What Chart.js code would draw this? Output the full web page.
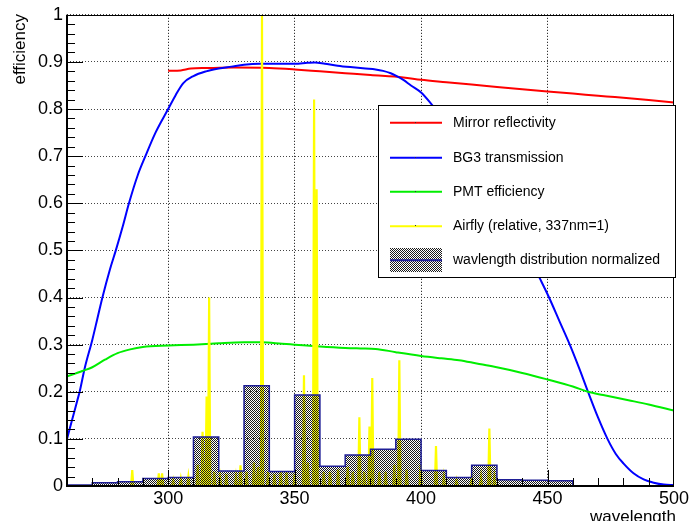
<!DOCTYPE html>
<html><head><meta charset="utf-8">
<script src="https://cdn.jsdelivr.net/npm/chart.js@4.4.1/dist/chart.umd.min.js"></script>
<style>html,body{margin:0;padding:0;background:#fff;}#wrap{width:691px;height:521px;position:relative;}</style>
</head><body><div id="wrap"><canvas id="c"></canvas></div>
<script>
// ---------- data ----------
const xMin = 260, xMax = 500;
const xTickValues = [300, 350, 400, 450, 500];
const yTickLabels = ['0','0.1','0.2','0.3','0.4','0.5','0.6','0.7','0.8','0.9','1'];

const mirrorWl  = [300, 305, 309, 315, 326, 340, 350, 360, 370, 380, 393, 400, 410, 420, 430, 440, 450, 460, 470, 475, 480, 490, 500];
const mirrorVal = [0.881,0.882,0.886,0.887,0.888,0.887,0.884,0.880,0.876,0.872,0.867,0.862,0.857,0.852,0.847,0.842,0.837,0.833,0.828,0.826,0.824,0.819,0.814];

const bg3Wl  = [260, 262, 264, 265, 267, 270, 272, 274, 277, 279.3, 282, 284.5, 288, 291, 295, 300, 303, 306, 310, 315, 320, 325, 330, 336, 345, 350, 355, 358, 362, 367, 372, 378, 382, 385, 388, 390, 393, 396, 400, 404, 410, 420, 430, 440, 447, 450.6, 454.7, 458.8, 462.5, 466, 470, 473.7, 477, 480, 484, 488, 492, 496, 500];
const bg3Val = [0.10,0.14,0.18,0.20,0.25,0.31,0.355,0.40,0.46,0.50,0.55,0.60,0.66,0.70,0.75,0.80,0.83,0.855,0.87,0.88,0.886,0.890,0.894,0.896,0.896,0.896,0.898,0.899,0.896,0.892,0.889,0.886,0.884,0.881,0.876,0.871,0.862,0.850,0.835,0.811,0.77,0.69,0.605,0.515,0.44,0.40,0.35,0.30,0.25,0.20,0.145,0.10,0.068,0.048,0.027,0.014,0.007,0.003,0.002];

const pmtWl  = [260, 263, 266, 270, 275, 280, 285, 290, 300, 310, 320, 330, 337, 345, 350, 360, 370, 376, 382, 390, 400, 408, 415, 422, 429, 440, 450, 460, 466, 472, 482, 490, 500];
const pmtVal = [0.233,0.238,0.244,0.252,0.268,0.282,0.290,0.295,0.298,0.300,0.303,0.305,0.305,0.302,0.300,0.296,0.293,0.292,0.291,0.284,0.276,0.271,0.267,0.260,0.253,0.240,0.226,0.211,0.200,0.193,0.182,0.173,0.160];

const airflyWl  = [285.8, 296.3, 297.6, 302.0, 305.0, 308.0, 311.7, 313.6, 315.2, 316.2, 318.2, 320.5, 323.0, 326.8, 328.6, 331.0, 333.9, 335.5, 337.1, 339.5, 342.0, 344.5, 346.8, 350.0, 353.7, 355.2, 357.7, 358.7, 361.5, 364.0, 367.2, 371.0, 373.0, 375.6, 377.5, 379.6, 380.7, 383.5, 386.0, 389.4, 391.4, 394.3, 399.8, 405.9, 409.0, 414.0, 420.0, 423.7, 427.0, 429.0];
const airflyRel = [0.034, 0.027, 0.027, 0.012, 0.015, 0.020, 0.045, 0.115, 0.190, 0.400, 0.030, 0.020, 0.025, 0.020, 0.044, 0.030, 0.050, 0.040, 1.000, 0.030, 0.025, 0.030, 0.030, 0.025, 0.235, 0.050, 0.820, 0.630, 0.030, 0.030, 0.035, 0.040, 0.030, 0.146, 0.030, 0.126, 0.229, 0.030, 0.030, 0.045, 0.267, 0.035, 0.045, 0.085, 0.020, 0.012, 0.020, 0.020, 0.122, 0.020];

const histEdges = [260, 270, 280, 290, 300, 310, 320, 330, 340, 350, 360, 370, 380, 390, 400, 410, 420, 430, 440, 450, 460];
const histVal   = [0.002,0.007,0.009,0.016,0.018,0.104,0.032,0.213,0.031,0.193,0.042,0.066,0.078,0.099,0.033,0.018,0.044,0.013,0.012,0.011,0];

const legendLabels = ['Mirror reflectivity','BG3 transmission','PMT efficiency','Airfly (relative, 337nm=1)','wavlength distribution normalized'];

// ---------- build ----------
const FONT = "'Liberation Sans', Arial, Helvetica, sans-serif";
const zip = (xs, ys) => xs.map((x, i) => ({x, y: ys[i]}));

const airflyData = [];
airflyWl.forEach((w, i) => {
  airflyData.push({x: w - 0.45, y: 0}, {x: w, y: airflyRel[i]}, {x: w + 0.45, y: 0}, {x: w + 0.5, y: null});
});

const pc = document.createElement('canvas'); pc.width = 2; pc.height = 2;
const pctx = pc.getContext('2d'); pctx.fillStyle = '#1a1a1a'; pctx.fillRect(0,0,1,1); pctx.fillRect(1,1,1,1);
const ctxMain = document.getElementById('c').getContext('2d');
const checker = ctxMain.createPattern(pc, 'repeat');

const HIST_COLOR = 'rgb(30,30,150)';
const colors = ['#ff0000', '#0000ff', '#00ee00', '#ffff00'];

const rootPlugin = {
  id: 'rootDeco',
  afterDatasetsDraw(chart) {
    const {ctx, chartArea: a, scales: {x, y}} = chart;
    ctx.save();
    ctx.strokeStyle = '#000'; ctx.lineWidth = 1;
    ctx.beginPath();
    const L = Math.round(a.left), B = Math.round(a.bottom);
    for (let k = 0; k <= 50; k++) {
      const yy = Math.round(y.getPixelForValue(k * 0.02)) + 0.5;
      const len = (k % 5 === 0) ? 16 : 8;
      ctx.moveTo(L, yy); ctx.lineTo(L + len, yy);
    }
    for (let w = xMin + 10; w < xMax; w += 10) {
      const xx = Math.round(x.getPixelForValue(w)) + 0.5;
      const len = (w % 50 === 0) ? 16 : 8;
      ctx.moveTo(xx, B); ctx.lineTo(xx, B - len);
    }
    ctx.stroke();
    ctx.beginPath();
    ctx.moveTo(L, Math.round(a.top) + 0.5); ctx.lineTo(Math.round(a.right), Math.round(a.top) + 0.5);
    ctx.moveTo(Math.round(a.right) - 0.5, a.top); ctx.lineTo(Math.round(a.right) - 0.5, a.bottom);
    ctx.stroke();
    ctx.lineWidth = 2;
    ctx.beginPath();
    ctx.moveTo(L, a.top); ctx.lineTo(L, B + 1);
    ctx.moveTo(L - 1, B); ctx.lineTo(Math.round(a.right), B);
    ctx.stroke();

    const bx = 378.5, by = 105.5, bw = 297, bh = 172;
    ctx.fillStyle = '#fff'; ctx.fillRect(bx, by, bw, bh);
    ctx.lineWidth = 1; ctx.strokeStyle = '#000'; ctx.strokeRect(bx, by, bw, bh);
    const rows = [122.7, 157.7, 191.7, 226.3, 260.3];
    ctx.font = '14px ' + FONT; ctx.textBaseline = 'middle'; ctx.textAlign = 'left'; ctx.fillStyle = '#000';
    legendLabels.forEach((t, i) => {
      const yc = rows[i];
      if (i < 4) {
        ctx.strokeStyle = colors[i]; ctx.lineWidth = 2;
        ctx.beginPath(); ctx.moveTo(390, yc); ctx.lineTo(442, yc); ctx.stroke();
        ctx.fillStyle = '#333'; ctx.fillRect(415, Math.round(yc) - 1, 1, 1);
      } else {
        ctx.fillStyle = checker; ctx.fillRect(390, 248, 52, 24);
        ctx.strokeStyle = HIST_COLOR; ctx.lineWidth = 2;
        ctx.beginPath(); ctx.moveTo(390, yc); ctx.lineTo(442, yc); ctx.stroke();
      }
      ctx.fillStyle = '#000';
      ctx.fillText(t, 453, yc);
    });

    ctx.font = '17px ' + FONT; ctx.fillStyle = '#000';
    ctx.textAlign = 'right'; ctx.textBaseline = 'alphabetic';
    ctx.fillText('wavelength', 676, 522);
    ctx.save();
    ctx.translate(25, 14); ctx.rotate(-Math.PI / 2);
    ctx.fillText('efficiency', 0, 0);
    ctx.restore();
    ctx.restore();
  }
};

new Chart(ctxMain, {
  type: 'line',
  data: {
    datasets: [
      {label: legendLabels[4], data: zip(histEdges, histVal), stepped: 'before', borderColor: HIST_COLOR, borderWidth: 1.5, backgroundColor: checker, fill: 'origin', order: 0},
      {label: legendLabels[3], data: airflyData, borderColor: '#ffff00', borderWidth: 2.2, backgroundColor: '#ffff00', fill: 'origin', spanGaps: false, order: 1},
      {label: legendLabels[2], data: zip(pmtWl, pmtVal), borderColor: colors[2], borderWidth: 2, cubicInterpolationMode: 'monotone', fill: false, order: 2},
      {label: legendLabels[1], data: zip(bg3Wl, bg3Val), borderColor: colors[1], borderWidth: 2, cubicInterpolationMode: 'monotone', fill: false, order: 3},
      {label: legendLabels[0], data: zip(mirrorWl, mirrorVal), borderColor: colors[0], borderWidth: 2, cubicInterpolationMode: 'monotone', fill: false, order: 4}
    ]
  },
  options: {
    animation: false, responsive: true, maintainAspectRatio: false,
    layout: {padding: {top: 14, right: 15, left: 0, bottom: 0}},
    elements: {point: {radius: 0, hoverRadius: 0}},
    plugins: {legend: {display: false}, tooltip: {enabled: false}},
    events: [],
    scales: {
      x: {
        type: 'linear', min: xMin, max: xMax,
        afterBuildTicks: s => { s.ticks = xTickValues.map(v => ({value: v})); },
        afterFit: s => { s.height = 35; },
        ticks: {autoSkip: false, maxRotation: 0, padding: 2, color: '#000', font: {family: FONT, size: 18}, callback: v => String(v)},
        grid: {color: '#000', lineWidth: 1, drawTicks: false},
        border: {display: false, dash: [1, 2]}
      },
      y: {
        type: 'linear', min: 0, max: 1,
        afterBuildTicks: s => { s.ticks = yTickLabels.map(v => ({value: Number(v)})); },
        afterFit: s => { s.width = 67; },
        ticks: {autoSkip: false, padding: 4, color: '#000', font: {family: FONT, size: 18}, callback: (v, i) => yTickLabels[i]},
        grid: {color: '#444', lineWidth: 1, drawTicks: false},
        border: {display: false, dash: [1, 2]}
      }
    }
  },
  plugins: [rootPlugin]
});
</script></body></html>
